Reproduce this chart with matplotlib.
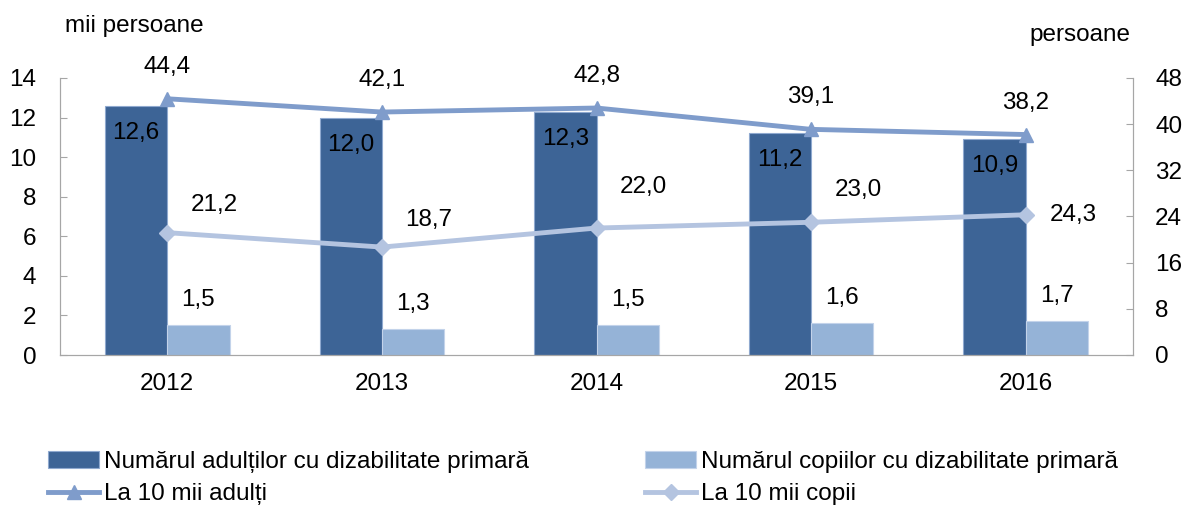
import matplotlib
matplotlib.use("Agg")
import matplotlib.pyplot as plt
import numpy as np

years = ["2012", "2013", "2014", "2015", "2016"]
adults = [12.6, 12.0, 12.3, 11.2, 10.9]
children = [1.5, 1.3, 1.5, 1.6, 1.7]
adults_rate = [44.4, 42.1, 42.8, 39.1, 38.2]
children_rate = [21.2, 18.7, 22.0, 23.0, 24.3]
left_ticks = [0, 2, 4, 6, 8, 10, 12, 14]
right_ticks = [0, 8, 16, 24, 32, 40, 48]
labels = ["Numărul adulților cu dizabilitate primară",
          "Numărul copiilor cu dizabilitate primară",
          "La 10 mii adulți", "La 10 mii copii"]

def fmt(v):
    return f"{v:.1f}".replace(".", ",")

plt.rcParams['font.family'] = ['Liberation Sans', 'DejaVu Sans']
FS = 17.5

fig = plt.figure(figsize=(11.85, 5.07), dpi=100)
ax = fig.add_axes([60/1185, 1-355/507, (1133-60)/1185, (355-78)/507])
ax2 = ax.twinx()

x = np.arange(len(years))
w = 0.29
c_adult = "#3D6496"
c_child = "#95B3D7"
c_line_a = "#7F9CCB"
c_line_c = "#B4C4E0"

b1 = ax.bar(x - w/2, adults, w, color=c_adult, edgecolor="#8FA9CF", linewidth=0.8, zorder=2)
b2 = ax.bar(x + w/2, children, w, color=c_child, edgecolor="#C3D3EA", linewidth=0.8, zorder=2)

for xi, v in zip(x, adults):
    ax.annotate(fmt(v), (xi - w/2, v), xytext=(0, -19.5), textcoords="offset points",
                ha="center", va="center", fontsize=FS)
for xi, v in zip(x, children):
    ax.annotate(fmt(v), (xi + w/2, v), xytext=(0, 18.5), textcoords="offset points",
                ha="center", va="center", fontsize=FS)

l1, = ax2.plot(x, adults_rate, color=c_line_a, lw=3.5, marker="^", ms=10, zorder=3)
l2, = ax2.plot(x, children_rate, color=c_line_c, lw=3.5, marker="D", ms=8, zorder=3)

for xi, v in zip(x, adults_rate):
    ax2.annotate(fmt(v), (xi, v), xytext=(0, 23), textcoords="offset points",
                 ha="center", va="center", fontsize=FS)
child_off = [(34, 20), (34, 19.5), (34, 29.5), (34, 23), (34, 0)]
for xi, v, off in zip(x, children_rate, child_off):
    ax2.annotate(fmt(v), (xi, v), xytext=off, textcoords="offset points",
                 ha="center", va="center", fontsize=FS)

ax.set_xlim(-0.5, len(years) - 0.5)
ax.set_ylim(0, 14)
ax2.set_ylim(0, 48)
ax.set_yticks(left_ticks)
ax2.set_yticks(right_ticks)
ax.set_xticks(x)
ax.set_xticklabels(years)

for a in (ax, ax2):
    for s in a.spines.values():
        s.set_color("#A6A6A6")
    a.spines["top"].set_visible(False)
ax.tick_params(axis="y", direction="in", length=5, color="#A6A6A6", labelsize=FS, pad=17)
ax2.tick_params(axis="y", direction="in", length=5, color="#A6A6A6", labelsize=FS, pad=16)
ax.tick_params(axis="x", length=0, labelsize=FS, pad=13)

fig.text(65/1185, 1-26/507, "mii persoane", fontsize=FS, ha="left", va="center")
fig.text(1130/1185, 1-35/507, "persoane", fontsize=FS, ha="right", va="center")

fig.legend([b1, l1, b2, l2], [labels[0], labels[2], labels[1], labels[3]],
           ncol=2, loc="center left", bbox_to_anchor=(48/1185, 1-478/507),
           frameon=False, fontsize=FS, handlelength=2.1, handletextpad=0.2,
           columnspacing=4.8, labelspacing=0.45, borderaxespad=0, numpoints=1,
           borderpad=0)

fig.savefig("out.png", dpi=100)
